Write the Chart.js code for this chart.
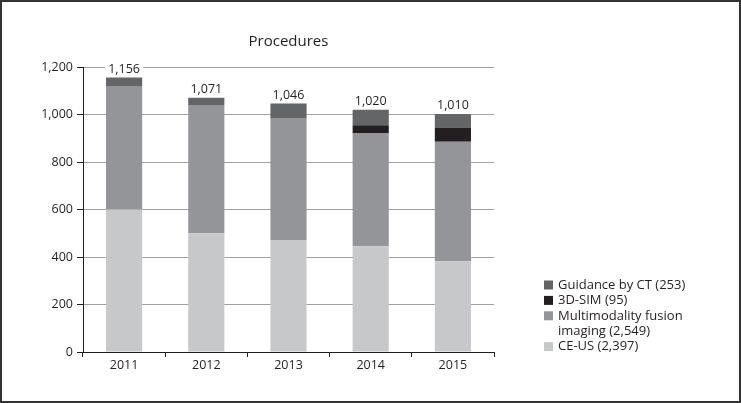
<!DOCTYPE html>
<html>
<head>
<meta charset="utf-8">
<script src="https://cdn.jsdelivr.net/npm/chart.js@4/dist/chart.umd.min.js"></script>
<style>
html,body{margin:0;padding:0;background:#fff;}
canvas{display:block;}
</style>
</head>
<body>
<canvas id="c" width="741" height="403"></canvas>
<script>
const categories = ['2011', '2012', '2013', '2014', '2015'];
const ceUs = [600, 500, 470, 445, 382];
const multimodality = [520, 540, 515, 475, 503];
const sim3d = [0, 0, 0, 35, 60];
const guidanceCT = [36, 31, 61, 65, 57];
const totalLabels = ['1,156', '1,071', '1,046', '1,020', '1,010'];
const legendLabels = [['Guidance by CT (253)'], ['3D-SIM (95)'], ['Multimodality fusion', 'imaging (2,549)'], ['CE-US (2,397)']];
const yTickValues = [0, 200, 400, 600, 800, 1000, 1200];
const chartTitle = 'Procedures';

const colors = { ct: '#646567', sim: '#231f20', multi: '#939598', ce: '#c7c8ca' };
const FONT = '"Open Sans", "Noto Sans", sans-serif';

const decor = {
  id: 'decor',
  beforeDraw(chart) {
    const ctx = chart.ctx;
    ctx.save();
    ctx.fillStyle = '#fff';
    ctx.fillRect(0, 0, chart.width, chart.height);
    ctx.restore();
  },
  afterDraw(chart) {
    const ctx = chart.ctx;
    const area = chart.chartArea;
    ctx.save();
    // title
    ctx.fillStyle = '#231f20';
    ctx.font = '15px ' + FONT;
    ctx.textAlign = 'center';
    ctx.textBaseline = 'middle';
    ctx.fillText(chartTitle, (area.left + area.right) / 2, 42);
    // totals
    ctx.font = '12.5px ' + FONT;
    ctx.textBaseline = 'bottom';
    const meta = chart.getDatasetMeta(chart.data.datasets.length - 1);
    meta.data.forEach((bar, i) => {
      const t = totalLabels[i];
      const w = ctx.measureText(t).width;
      const yb = bar.y - 2;
      ctx.fillStyle = '#fff';
      ctx.fillRect(bar.x - w / 2 - 3, yb - 13, w + 6, 12);
      ctx.fillStyle = '#231f20';
      ctx.fillText(t, bar.x, yb);
    });
    // legend
    const order = [3, 2, 1, 0];
    const lx = 544, boxSize = 9, lineH = 15.4;
    let y = 285;
    ctx.font = '13px ' + FONT;
    ctx.textAlign = 'left';
    ctx.textBaseline = 'middle';
    order.forEach((di, k) => {
      const ds = chart.data.datasets[di];
      ctx.fillStyle = ds.backgroundColor;
      ctx.fillRect(lx, y - boxSize / 2, boxSize, boxSize);
      ctx.fillStyle = '#231f20';
      legendLabels[k].forEach((line, j) => {
        ctx.fillText(line, lx + 14, y + j * lineH);
      });
      y += lineH * legendLabels[k].length;
    });
    // outer frame
    ctx.strokeStyle = '#333';
    ctx.lineWidth = 2;
    ctx.strokeRect(1, 1, chart.width - 2, chart.height - 2);
    ctx.restore();
  }
};

new Chart(document.getElementById('c'), {
  type: 'bar',
  data: {
    labels: categories,
    datasets: [
      { label: 'CE-US', data: ceUs, backgroundColor: colors.ce },
      { label: 'Multimodality fusion imaging', data: multimodality, backgroundColor: colors.multi },
      { label: '3D-SIM', data: sim3d, backgroundColor: colors.sim },
      { label: 'Guidance by CT', data: guidanceCT, backgroundColor: colors.ct }
    ]
  },
  options: {
    responsive: false,
    animation: false,
    devicePixelRatio: 1,
    layout: { padding: { top: 67, right: 247, bottom: 0, left: 0 } },
    datasets: { bar: { barPercentage: 0.44, categoryPercentage: 1.0, borderWidth: 0 } },
    plugins: { legend: { display: false }, title: { display: false }, tooltip: { enabled: false } },
    scales: {
      x: {
        stacked: true,
        grid: { drawOnChartArea: false, drawTicks: true, tickLength: 5, tickColor: '#231f20', offset: true },
        border: { color: '#231f20', width: 1 },
        ticks: { color: '#231f20', font: { family: FONT, size: 12.5 }, padding: 1 },
        afterFit(scale) { scale.height = 51; }
      },
      y: {
        stacked: true,
        min: 0,
        max: 1200,
        afterBuildTicks(scale) { scale.ticks = yTickValues.map(v => ({ value: v })); },
        grid: { color: '#a0a0a0', lineWidth: 1, tickLength: 6, tickColor: '#231f20' },
        border: { color: '#231f20', width: 1 },
        ticks: {
          color: '#231f20',
          font: { family: FONT, size: 12.5 },
          padding: 4,
          callback: v => v.toLocaleString('en-US')
        },
        afterFit(scale) { scale.width = 83; }
      }
    }
  },
  plugins: [decor]
});
</script>
</body>
</html>
